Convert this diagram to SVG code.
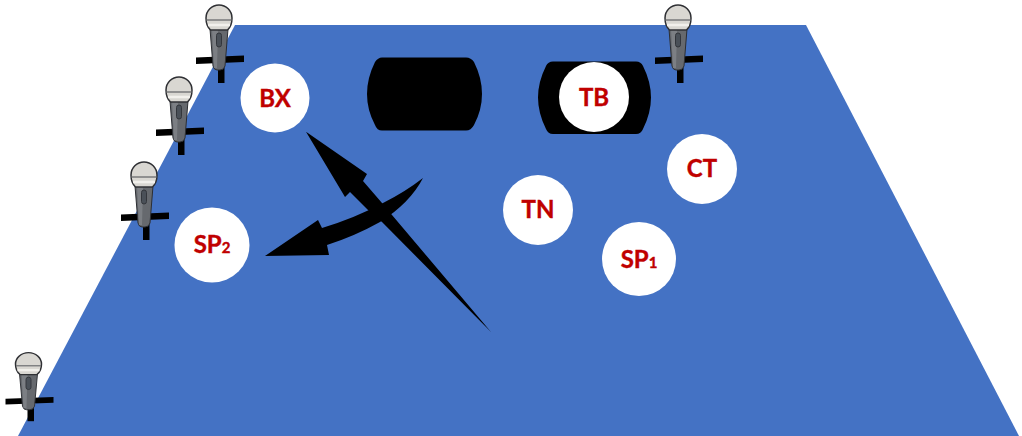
<svg xmlns="http://www.w3.org/2000/svg" width="1022" height="436" viewBox="0 0 1022 436">
<style>
.stage{fill:#4472c4}
.blk{fill:#000}
.spot{fill:#fff}
.lbl{font-family:Lato,"Open Sans","Liberation Sans",sans-serif;font-weight:700;font-size:24px;fill:#c00000;text-anchor:middle;stroke:#c00000;stroke-width:.4px}
.sub{font-size:15px}
</style>
<defs>
<g id="mic">
<path class="blk" d="M-23 39.500L25 37.500V44L-23 46Z"/>
<rect class="blk" x="-1" y="45" width="6.500" height="20"/>
<path d="M-9 11H9L6 48Q5 52 1 52H-2Q-5 52-6 48Z" fill="#66696e" stroke="#2c2e33" stroke-width="1"/>
<path d="M-7 11H-1L-2 50H-5Z" fill="#7c7f84"/>
<rect x="-2.500" y="15" width="5" height="14" rx="2.500" fill="#4a5058" stroke="#33363c" stroke-width="1"/>
<path d="M-13 0A13 13 0 0 1 13 0Q13 8 8.500 12H-8.500Q-13 8-13 0Z" fill="#d9d7d2" stroke="#2f3034" stroke-width="1.500"/>
<path d="M-12.500 2H12.500" stroke="#77787a" stroke-width="1.500" fill="none"/>
<path d="M-11 7H11" stroke="#f2f0ec" stroke-width="2.500" fill="none"/>
</g>
</defs>
<rect id="background" width="1022" height="436" fill="#fff"/>
<path id="stage" class="stage" d="M235 25H806L1019 436H18Z"/>
<g id="monitor-left"><path class="blk" d="M382 57.500H466Q471 57.500 474 62Q482 78 482 94Q482 110 474 125Q471 130.500 466 130.500H382Q377 130.500 375 125Q367 110 367 94Q367 78 375 62Q378 57.500 382 57.500Z"/></g>
<g id="monitor-right"><path class="blk" d="M553 61.500H636Q641 61.500 643 66Q651 82 651 97.500Q651 113 643 129Q641 134 636 134H553Q548 134 546 129Q538 113 538 97.500Q538 82 546 66Q548 61.500 553 61.500Z"/></g>
<g id="node-BX"><circle class="spot" cx="275" cy="98" r="34.500"/><text class="lbl" x="275" y="107">BX</text></g>
<g id="node-TB"><circle class="spot" cx="594" cy="97" r="35"/><text class="lbl" x="594" y="106">TB</text></g>
<g id="node-CT"><circle class="spot" cx="702" cy="169" r="35"/><text class="lbl" x="702" y="177">CT</text></g>
<g id="node-TN"><circle class="spot" cx="538" cy="210" r="35"/><text class="lbl" x="538" y="218">TN</text></g>
<g id="node-SP1"><circle class="spot" cx="639" cy="259" r="37"/><text class="lbl" x="639" y="268">SP<tspan class="sub">1</tspan></text></g>
<g id="node-SP2"><circle class="spot" cx="212" cy="245" r="37.500"/><text class="lbl" x="212" y="253">SP<tspan class="sub">2</tspan></text></g>
<g id="mic-1"><use href="#mic" x="219" y="18"/></g>
<g id="mic-2"><use href="#mic" x="179" y="90"/></g>
<g id="mic-3"><use href="#mic" x="144" y="175"/></g>
<g id="mic-4"><use href="#mic" transform="translate(28.500 364) scale(1 .88)"/></g>
<g id="mic-5"><use href="#mic" x="678" y="18"/></g>
<g id="connectors">
<path id="arrow-1" class="blk" d="M306 131.700L367 174L363 181L382 203L392 215L491 332L382 222L370 212L350 192L345 197Z"/>
<path id="arrow-2" class="blk" d="M423 178Q410 203 380 222Q355 236 327 245L329 255L265 256L318 220L322 228Q355 218 383 203Q405 192 423 178Z"/>
</g>
</svg>
